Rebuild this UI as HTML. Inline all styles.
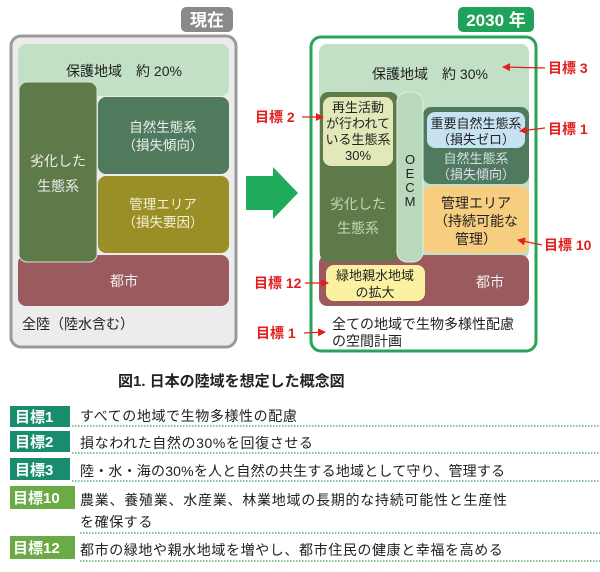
<!DOCTYPE html>
<html><head><meta charset="utf-8"><style>
body{margin:0;background:#fff;}
svg{display:block;font-family:"Liberation Sans","Noto Sans CJK JP",sans-serif;}
</style></head><body>
<svg width="600" height="572" viewBox="0 0 600 572" xmlns="http://www.w3.org/2000/svg">
<defs><marker id="ah" markerWidth="8" markerHeight="8" refX="7" refY="4" orient="auto" markerUnits="userSpaceOnUse"><path d="M0,0 L8,4 L0,8 Z" fill="#e0201e"/></marker></defs>
<!-- left -->
<rect x="181" y="7" width="52" height="25" rx="5" fill="#8a8a8a"/>
<text x="207" y="26" font-size="17" font-weight="bold" fill="#fff" text-anchor="middle">現在</text>
<rect x="11" y="36" width="225" height="311" rx="10" fill="#ececec" stroke="#9a9a9a" stroke-width="3"/>
<rect x="18" y="44" width="211" height="52" rx="8" fill="#c2e0c6"/>
<text x="124" y="76" font-size="14" fill="#222" text-anchor="middle">保護地域　約 20%</text>
<rect x="98" y="97" width="131" height="77" rx="8" fill="#4f7a5d"/>
<text x="163" y="132" font-size="13.5" fill="#eee" text-anchor="middle">自然生態系</text>
<text x="163" y="150" font-size="13.5" fill="#eee" text-anchor="middle">（損失傾向）</text>
<rect x="98" y="176" width="131" height="77" rx="8" fill="#9a8e27"/>
<text x="163" y="209" font-size="13.5" fill="#f4f0d0" text-anchor="middle">管理エリア</text>
<rect x="18" y="255" width="211" height="51" rx="8" fill="#9a5a5e"/>
<text x="163" y="227" font-size="13.5" fill="#f4f0d0" text-anchor="middle">（損失要因）</text>
<rect x="19" y="82" width="78" height="180" rx="8" fill="#5e7a48" stroke="#d8e0d0" stroke-width="1"/>
<text x="58" y="166" font-size="14" fill="#eee" text-anchor="middle">劣化した</text>
<text x="58" y="191" font-size="14" fill="#eee" text-anchor="middle">生態系</text>
<text x="124" y="286" font-size="14" fill="#eee" text-anchor="middle">都市</text>
<text x="22" y="329" font-size="14" fill="#222">全陸（陸水含む）</text>
<!-- arrow -->
<path d="M246,176 H273 V167 L298,193 L273,219 V210 H246 Z" fill="#1faa5c"/>
<!-- right -->
<rect x="458" y="7" width="76" height="25" rx="5" fill="#1fa35a"/>
<text x="496" y="26" font-size="17" font-weight="bold" fill="#fff" text-anchor="middle">2030 年</text>
<rect x="311" y="37" width="225" height="314" rx="10" fill="#fff" stroke="#27a35a" stroke-width="3"/>
<rect x="319" y="44" width="210" height="215" rx="8" fill="#c2e0c6"/>
<text x="430" y="79" font-size="14" fill="#222" text-anchor="middle">保護地域　約 30%</text>
<rect x="423" y="107" width="106" height="77" rx="8" fill="#4f7a5d"/>
<rect x="427" y="112" width="98" height="36" rx="8" fill="#c7e3f3"/>
<text x="476" y="128" font-size="13" fill="#222" text-anchor="middle">重要自然生態系</text>
<text x="476" y="144" font-size="13" fill="#222" text-anchor="middle">（損失ゼロ）</text>
<text x="476" y="163" font-size="13" fill="#dde" text-anchor="middle">自然生態系</text>
<text x="476" y="179" font-size="13" fill="#dde" text-anchor="middle">（損失傾向）</text>
<rect x="423" y="186" width="106" height="67" rx="8" fill="#f7cd80"/>
<text x="476" y="208" font-size="14" fill="#222" text-anchor="middle">管理エリア</text>
<text x="476" y="226" font-size="14" fill="#222" text-anchor="middle">（持続可能な</text>
<text x="476" y="244" font-size="14" fill="#222" text-anchor="middle">管理）</text>
<rect x="319" y="255" width="210" height="51" rx="8" fill="#9a5a5e"/>
<text x="490" y="287" font-size="14" fill="#eee" text-anchor="middle">都市</text>
<rect x="320" y="92" width="78" height="170" rx="8" fill="#5e7a48"/>
<rect x="323" y="97" width="70" height="69" rx="8" fill="#e2e8b8"/>
<text x="358" y="112" font-size="13" fill="#222" text-anchor="middle">再生活動</text>
<text x="358" y="128" font-size="13" fill="#222" text-anchor="middle">が行われて</text>
<text x="358" y="144" font-size="13" fill="#222" text-anchor="middle">いる生態系</text>
<text x="358" y="160" font-size="13" fill="#222" text-anchor="middle">30%</text>
<text x="358" y="209" font-size="14" fill="#c8d4b8" text-anchor="middle">劣化した</text>
<text x="358" y="233" font-size="14" fill="#c8d4b8" text-anchor="middle">生態系</text>
<rect x="397" y="92" width="26" height="170" rx="10" fill="#b9d9bd" stroke="#e4f0e4" stroke-width="1"/>
<text x="410" y="164" font-size="13" fill="#222" text-anchor="middle">O</text>
<text x="410" y="178" font-size="13" fill="#222" text-anchor="middle">E</text>
<text x="410" y="192" font-size="13" fill="#222" text-anchor="middle">C</text>
<text x="410" y="206" font-size="13" fill="#222" text-anchor="middle">M</text>
<rect x="326" y="265" width="99" height="36" rx="8" fill="#fbf1a0"/>
<text x="375" y="280" font-size="13" fill="#222" text-anchor="middle">緑地親水地域</text>
<text x="375" y="297" font-size="13" fill="#222" text-anchor="middle">の拡大</text>
<text x="332" y="329" font-size="14" fill="#222">全ての地域で生物多様性配慮</text>
<text x="332" y="346" font-size="14" fill="#222">の空間計画</text>
<!-- red labels -->
<g fill="#e0201e" font-size="14" font-weight="bold">
<text x="548" y="73">目標 3</text>
<text x="548" y="134">目標 1</text>
<text x="544" y="250">目標 10</text>
<text x="255" y="122">目標 2</text>
<text x="254" y="288">目標 12</text>
<text x="256" y="338">目標 1</text>
</g>
<g stroke="#e0201e" stroke-width="1.3" marker-end="url(#ah)">
<line x1="545" y1="68" x2="503" y2="67"/>
<line x1="545" y1="128" x2="520" y2="131"/>
<line x1="542" y1="245" x2="518" y2="240"/>
<line x1="302" y1="117" x2="323" y2="117"/>
<line x1="305" y1="283" x2="328" y2="283"/>
<line x1="304" y1="333" x2="325" y2="332"/>
</g>
<!-- caption -->
<text x="118" y="386" font-size="15" font-weight="bold" fill="#222">図1. 日本の陸域を想定した概念図</text>
<!-- list -->
<g font-size="15" font-weight="bold" fill="#fff">
<rect x="10" y="406" width="60" height="21" fill="#1a8c6e"/><text x="15" y="422">目標1</text>
<rect x="10" y="431" width="60" height="21" fill="#1a8c6e"/><text x="15" y="447">目標2</text>
<rect x="10" y="458" width="60" height="22" fill="#1a8c6e"/><text x="15" y="475">目標3</text>
<rect x="10" y="486" width="65" height="23" fill="#6aab45"/><text x="13" y="503">目標10</text>
<rect x="10" y="536" width="65" height="23" fill="#6aab45"/><text x="13" y="553">目標12</text>
</g>
<g font-size="14" fill="#222" letter-spacing="0.6">
<text x="80" y="421">すべての地域で生物多様性の配慮</text>
<text x="80" y="448">損なわれた自然の30%を回復させる</text>
<text x="80" y="476" letter-spacing="0.2">陸・水・海の30%を人と自然の共生する地域として守り、管理する</text>
<text x="80" y="505" letter-spacing="0.75">農業、養殖業、水産業、林業地域の長期的な持続可能性と生産性</text>
<text x="80" y="527">を確保する</text>
<text x="80" y="555">都市の緑地や親水地域を増やし、都市住民の健康と幸福を高める</text>
</g>
<g stroke="#3aa06a" stroke-width="1.2" stroke-dasharray="1.5,1.5">
<line x1="72" y1="426" x2="600" y2="426"/>
<line x1="72" y1="453" x2="600" y2="453"/>
<line x1="72" y1="481" x2="600" y2="481"/>
<line x1="80" y1="533" x2="600" y2="533"/>
<line x1="80" y1="561" x2="600" y2="561"/>
</g>
</svg>
</body></html>
